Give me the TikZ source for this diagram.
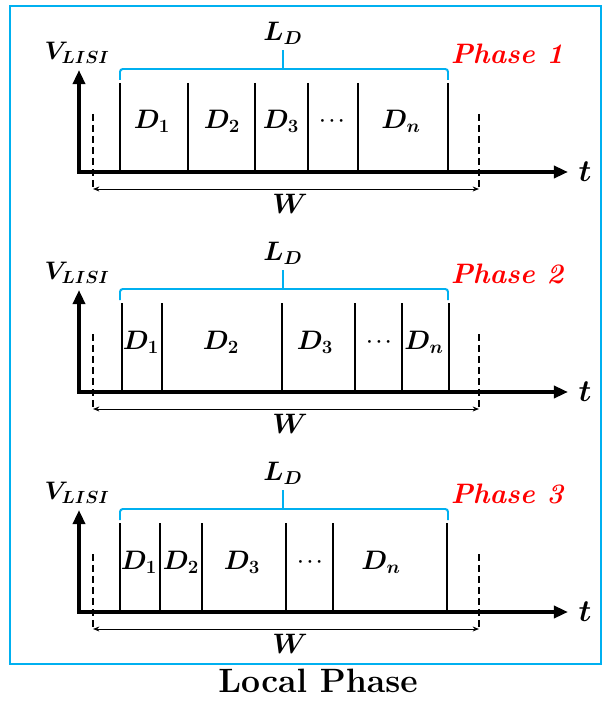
\RequirePackage{fix-cm}
\documentclass[tikz,border=0pt]{standalone}
\usetikzlibrary{arrows.meta}
\definecolor{framecyan}{RGB}{0,176,240}
\definecolor{phasered}{RGB}{255,0,0}

\begin{document}
\begin{tikzpicture}[
  x=0.025cm, y=-0.025cm,
  axis/.style={line width=2.9pt, line cap=rect,
               -{Triangle[length=10pt,width=8.5pt]}},
  divider/.style={line width=1.2pt},
  brace/.style={draw=framecyan, line width=1.4pt, rounded corners=2pt},
  limit/.style={dash pattern=on 5pt off 2.8pt, line width=0.9pt},
  span/.style={line width=0.7pt,
               {Stealth[length=4.5pt,width=3.5pt]}-{Stealth[length=4.5pt,width=3.5pt]}},
  sym/.style={font=\fontsize{19}{21}\selectfont\boldmath, inner sep=1pt},
  dots/.style={font=\fontsize{13}{15}\selectfont\boldmath, inner sep=1pt},
  phase/.style={font=\fontsize{20}{22}\selectfont\bfseries\itshape,
                text=phasered, inner sep=1pt},
]
\useasboundingbox (0,0) rectangle (603,708);
\draw[framecyan, line width=2pt] (10,6) rectangle (601,664);

% common skeleton of the three phases
\foreach \i/\ax in {1/172, 2/392, 3/612} {
  \coordinate (o\i) at (79,\ax);
  \coordinate (yt\i) at (79,\ax-102);
  \coordinate (xt\i) at (568,\ax);
  \node[sym, font=\fontsize{18}{20}\selectfont\boldmath] (v\i) at (77,\ax-119)
    {$V_{\hbox{\fontsize{12.5}{13}\selectfont\boldmath$LISI$}}$};
  \node[sym, font=\fontsize{22}{24}\selectfont\boldmath] (t\i) at (585,\ax) {$t$};
  \draw[axis] (o\i) -- (yt\i);
  \draw[axis] (o\i) -- (xt\i);

  \draw[brace] (120,\ax-92) -- (120,\ax-103) -- (448,\ax-103) -- (448,\ax-92);
  \draw[brace] (283,\ax-103) -- (283,\ax-122);
  \node[sym] (ld\i) at (283,\ax-139) {$L_D$};
  \node[phase] (ph\i) at (507,\ax-118) {Phase \i};

  \coordinate (wl\i) at (93,\ax+17);
  \coordinate (wr\i) at (479,\ax+17);
  \draw[limit] (93,\ax-58) -- (wl\i);
  \draw[limit] (479,\ax-58) -- (wr\i);
  \draw[span] (wl\i) -- (wr\i);
  \node[sym, font=\fontsize{20}{22}\selectfont\boldmath] (w\i) at (290,\ax+32) {$W$};
}

% phase 1
\foreach \x in {120,188,255,308,358,448}
  \draw[divider] (\x,83) -- (\x,172);
\node[sym] (d11) at (152,121) {$D_1$};
\node[sym] (d12) at (222,121) {$D_2$};
\node[sym] (d13) at (281,121) {$D_3$};
\node[dots] (d14) at (332,121) {$\cdots$};
\node[sym] (d1n) at (401,121) {$D_n$};

% phase 2
\foreach \x in {122,162,282,355,402,449}
  \draw[divider] (\x,303) -- (\x,392);
\node[sym] (d21) at (141,342) {$D_1$};
\node[sym] (d22) at (221,342) {$D_2$};
\node[sym] (d23) at (315,342) {$D_3$};
\node[dots] (d24) at (379,342) {$\cdots$};
\node[sym] (d2n) at (424,342) {$D_n$};

% phase 3
\foreach \x in {120,160,202,286,333,447}
  \draw[divider] (\x,523) -- (\x,612);
\node[sym] (d31) at (139,562) {$D_1$};
\node[sym] (d32) at (181,562) {$D_2$};
\node[sym] (d33) at (242,562) {$D_3$};
\node[dots] (d34) at (310,562) {$\cdots$};
\node[sym] (d3n) at (381,562) {$D_n$};

\node[font=\fontsize{24}{26}\selectfont\bfseries, anchor=base] (title) at (318,692) {Local Phase};
\end{tikzpicture}
\end{document}
